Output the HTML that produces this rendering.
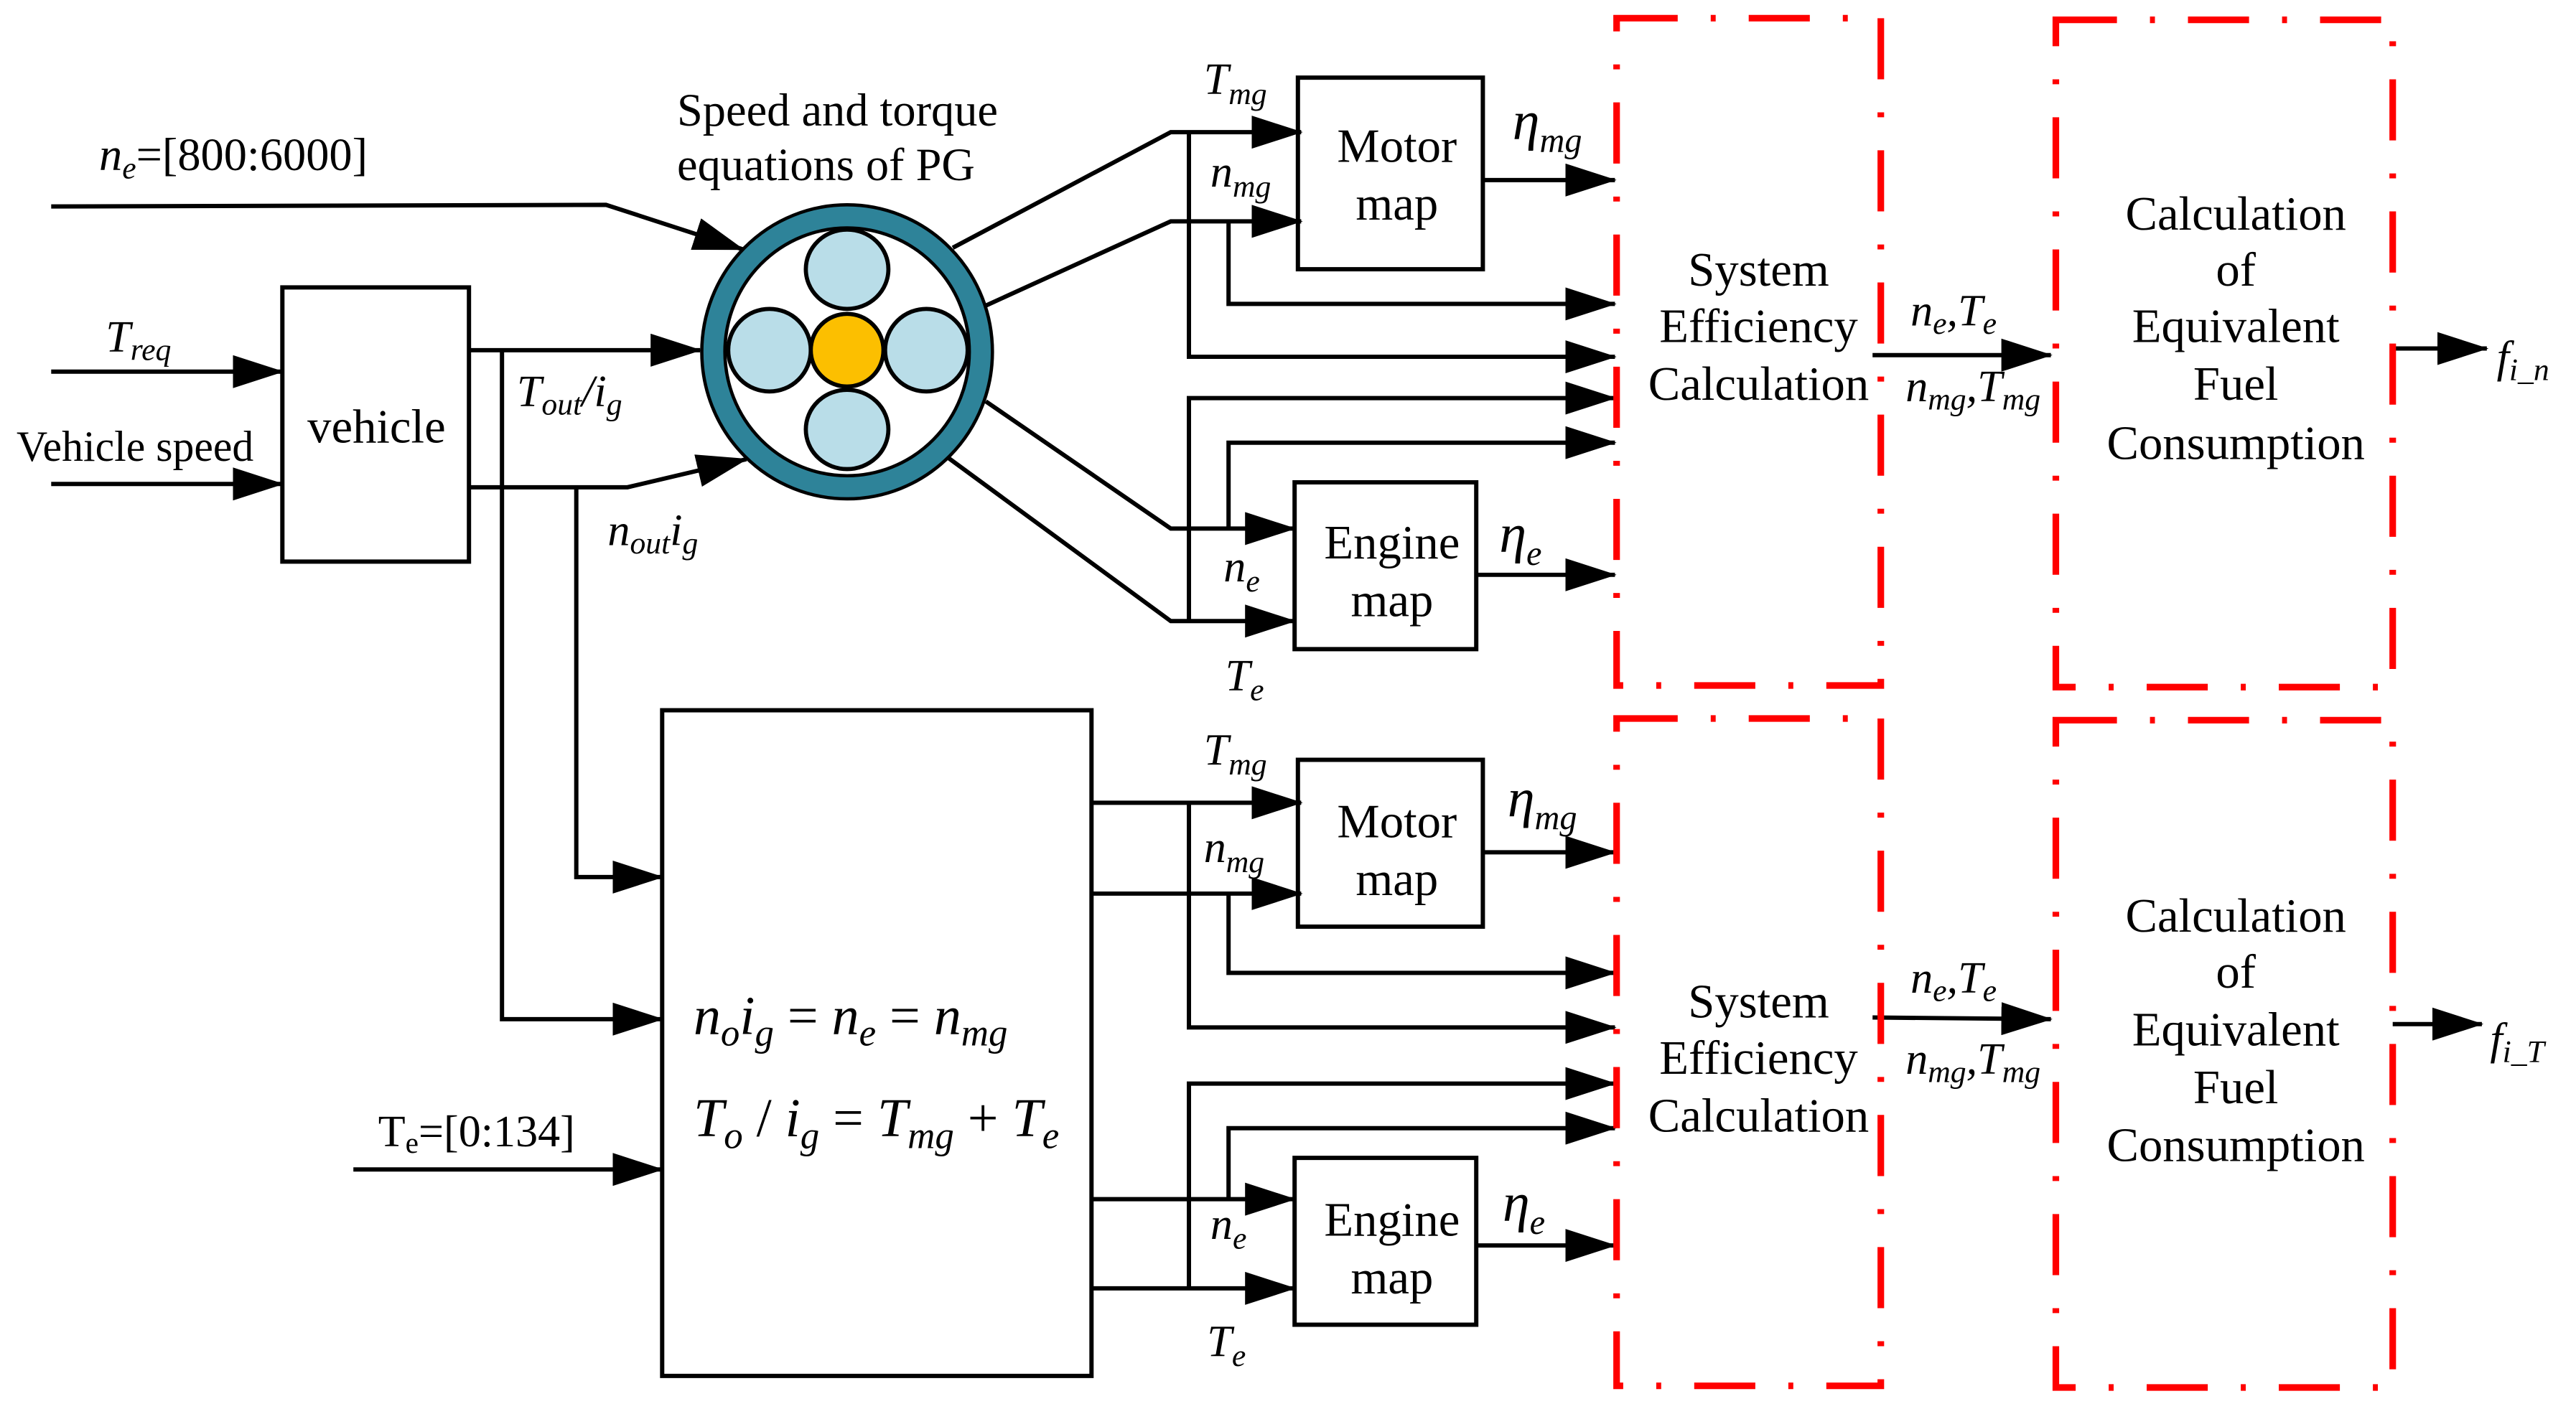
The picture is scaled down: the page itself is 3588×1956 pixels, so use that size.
<!DOCTYPE html>
<html><head><meta charset="utf-8"><style>
html,body{margin:0;padding:0;background:#fff}
svg{display:block}
text{font-family:"Liberation Serif",serif;fill:#000}
.b{font-size:29px}
.i{font-style:italic;font-size:27px}
.s{font-size:19px;font-style:italic}
</style></head><body>
<svg width="3588" height="1956" viewBox="0 0 1560 850" preserveAspectRatio="none" xmlns="http://www.w3.org/2000/svg">
<defs>
<marker id="a" markerUnits="userSpaceOnUse" markerWidth="31" markerHeight="20" refX="30" refY="10" orient="auto">
<path d="M0,0 L31,10 L0,20 z" fill="#000"/></marker>
</defs>
<g fill="none" stroke="#000" stroke-width="2.6">
<polyline points="31,125 367,124 450,151" marker-end="url(#a)"/>
<polyline points="31,225 171,225" marker-end="url(#a)"/>
<polyline points="31,293 171,293" marker-end="url(#a)"/>
<rect x="171" y="174" width="113" height="166"/>
<polyline points="284,212 424,212" marker-end="url(#a)"/>
<polyline points="284,295 380,295 452,278" marker-end="url(#a)"/>
<polyline points="304,212 304,617 401,617" marker-end="url(#a)"/>
<polyline points="349,295 349,531 401,531" marker-end="url(#a)"/>
<polyline points="577,150 709,80 788,80" marker-end="url(#a)"/>
<polyline points="597,185 709,134 788,134" marker-end="url(#a)"/>
<polyline points="720,80 720,216 978,216" marker-end="url(#a)"/>
<polyline points="744,134 744,184 978,184" marker-end="url(#a)"/>
<rect x="786" y="47" width="112" height="116"/>
<polyline points="898,109 978,109" marker-end="url(#a)"/>
<polyline points="597,243 709,320 784,320" marker-end="url(#a)"/>
<polyline points="574,277 709,376 784,376" marker-end="url(#a)"/>
<polyline points="720,376 720,241 978,241" marker-end="url(#a)"/>
<polyline points="744,320 744,268 978,268" marker-end="url(#a)"/>
<rect x="784" y="292" width="110" height="101"/>
<polyline points="894,348 978,348" marker-end="url(#a)"/>
<polyline points="1134,215 1242,215" marker-end="url(#a)"/>
<polyline points="1449,211 1506,211" marker-end="url(#a)"/>
<rect x="401" y="430" width="260" height="403"/>
<polyline points="214,708 401,708" marker-end="url(#a)"/>
<polyline points="661,486 788,486" marker-end="url(#a)"/>
<polyline points="661,541 788,541" marker-end="url(#a)"/>
<polyline points="720,486 720,622 978,622" marker-end="url(#a)"/>
<polyline points="744,541 744,589 978,589" marker-end="url(#a)"/>
<rect x="786" y="460" width="112" height="101"/>
<polyline points="898,516 978,516" marker-end="url(#a)"/>
<polyline points="661,726 784,726" marker-end="url(#a)"/>
<polyline points="661,780 784,780" marker-end="url(#a)"/>
<polyline points="720,780 720,656 978,656" marker-end="url(#a)"/>
<polyline points="744,726 744,683 978,683" marker-end="url(#a)"/>
<rect x="784" y="701" width="110" height="101"/>
<polyline points="894,754 978,754" marker-end="url(#a)"/>
<polyline points="1134,616 1242,617" marker-end="url(#a)"/>
<polyline points="1449,620 1503,620" marker-end="url(#a)"/>
</g>
<ellipse cx="513" cy="213" rx="81" ry="82" fill="#fff" stroke="#2e8399" stroke-width="13"/>
<ellipse cx="513" cy="213" rx="88" ry="89" fill="none" stroke="#000" stroke-width="2"/>
<ellipse cx="513" cy="213" rx="74" ry="75" fill="none" stroke="#000" stroke-width="2"/>
<g stroke="#000" stroke-width="2.5">
<ellipse cx="513" cy="163" rx="25" ry="24" fill="#b9dde8"/>
<ellipse cx="513" cy="260" rx="25" ry="24" fill="#b9dde8"/>
<ellipse cx="466" cy="212" rx="25" ry="25" fill="#b9dde8"/>
<ellipse cx="561" cy="212" rx="25" ry="25" fill="#b9dde8"/>
<ellipse cx="513" cy="212" rx="22" ry="22" fill="#fcbf00"/>
</g>
<g fill="none" stroke="#f00" stroke-width="4" stroke-dasharray="37 20 3 20">
<rect x="979" y="11" width="160" height="404"/>
<rect x="1245" y="12" width="204" height="404"/>
<rect x="979" y="435" width="160" height="404"/>
<rect x="1245" y="436" width="204" height="404"/>
</g>
<text class="b" x="60" y="103" style="font-size:28px"><tspan font-style="italic">n</tspan><tspan class="s" dy="5">e</tspan><tspan dy="-5">=[800:6000]</tspan></text>
<text class="i" x="64" y="213">T<tspan class="s" dy="5">req</tspan></text>
<text class="b" x="10" y="279" style="font-size:26px">Vehicle speed</text>
<text class="b" x="228" y="268" text-anchor="middle">vehicle</text>
<text class="i" x="313" y="246">T<tspan class="s" dy="5">out</tspan><tspan dy="-5">/i</tspan><tspan class="s" dy="5">g</tspan></text>
<text class="i" x="368" y="330">n<tspan class="s" dy="5">out</tspan><tspan dy="-5">i</tspan><tspan class="s" dy="5">g</tspan></text>
<text class="b" x="410" y="76" style="font-size:28px">Speed and torque</text>
<text class="b" x="410" y="109" style="font-size:28px">equations of PG</text>
<text class="i" x="729" y="57">T<tspan class="s" dy="6">mg</tspan></text>
<text class="i" x="733" y="113">n<tspan class="s" dy="6">mg</tspan></text>
<text class="i" x="741" y="352">n<tspan class="s" dy="6">e</tspan></text>
<text class="i" x="742" y="418">T<tspan class="s" dy="6">e</tspan></text>
<text class="b" x="846" y="98" text-anchor="middle">Motor</text>
<text class="b" x="846" y="133" text-anchor="middle">map</text>
<text class="b" x="843" y="338" text-anchor="middle">Engine</text>
<text class="b" x="843" y="373" text-anchor="middle">map</text>
<text class="i" x="916" y="84" style="font-size:33px">η<tspan class="s" dy="8" style="font-size:21px">mg</tspan></text>
<text class="i" x="908" y="334" style="font-size:33px">η<tspan class="s" dy="8" style="font-size:21px">e</tspan></text>
<g class="b" text-anchor="middle">
<text x="1065" y="173">System</text>
<text x="1065" y="207">Efficiency</text>
<text x="1065" y="242">Calculation</text>
<text x="1354" y="139">Calculation</text>
<text x="1354" y="173">of</text>
<text x="1354" y="207">Equivalent</text>
<text x="1354" y="242">Fuel</text>
<text x="1354" y="278">Consumption</text>
<text x="1065" y="616">System</text>
<text x="1065" y="650">Efficiency</text>
<text x="1065" y="685">Calculation</text>
<text x="1354" y="564">Calculation</text>
<text x="1354" y="598">of</text>
<text x="1354" y="633">Equivalent</text>
<text x="1354" y="668">Fuel</text>
<text x="1354" y="703">Consumption</text>
</g>
<text class="i" x="1157" y="197">n<tspan class="s" dy="5">e</tspan><tspan dy="-5">,T</tspan><tspan class="s" dy="5">e</tspan></text>
<text class="i" x="1154" y="243">n<tspan class="s" dy="5">mg</tspan><tspan dy="-5">,T</tspan><tspan class="s" dy="5">mg</tspan></text>
<text class="i" x="1512" y="225">f<tspan class="s" dy="5">i_n</tspan></text>
<text class="b" x="229" y="694" style="font-size:27px">T<tspan style="font-size:18px" dy="4">e</tspan><tspan dy="-4">=[0:134]</tspan></text>
<text class="i" x="420" y="626" style="font-size:33px">n<tspan class="s" dy="7" style="font-size:23px">o</tspan><tspan dy="-7">i</tspan><tspan class="s" dy="7" style="font-size:23px">g</tspan><tspan dy="-7" font-style="normal"> = </tspan><tspan>n</tspan><tspan class="s" dy="7" style="font-size:23px">e</tspan><tspan dy="-7" font-style="normal"> = </tspan><tspan>n</tspan><tspan class="s" dy="7" style="font-size:23px">mg</tspan></text>
<text class="i" x="420" y="688" style="font-size:33px">T<tspan class="s" dy="7" style="font-size:23px">o</tspan><tspan dy="-7" font-style="normal"> / </tspan><tspan>i</tspan><tspan class="s" dy="7" style="font-size:23px">g</tspan><tspan dy="-7" font-style="normal"> = </tspan><tspan>T</tspan><tspan class="s" dy="7" style="font-size:23px">mg</tspan><tspan dy="-7" font-style="normal"> + </tspan><tspan>T</tspan><tspan class="s" dy="7" style="font-size:23px">e</tspan></text>
<text class="i" x="729" y="463">T<tspan class="s" dy="6">mg</tspan></text>
<text class="i" x="729" y="522">n<tspan class="s" dy="6">mg</tspan></text>
<text class="i" x="733" y="750">n<tspan class="s" dy="6">e</tspan></text>
<text class="i" x="731" y="821">T<tspan class="s" dy="6">e</tspan></text>
<text class="b" x="846" y="507" text-anchor="middle">Motor</text>
<text class="b" x="846" y="542" text-anchor="middle">map</text>
<text class="b" x="843" y="748" text-anchor="middle">Engine</text>
<text class="b" x="843" y="783" text-anchor="middle">map</text>
<text class="i" x="913" y="494" style="font-size:33px">η<tspan class="s" dy="8" style="font-size:21px">mg</tspan></text>
<text class="i" x="910" y="739" style="font-size:33px">η<tspan class="s" dy="8" style="font-size:21px">e</tspan></text>
<text class="i" x="1157" y="601">n<tspan class="s" dy="5">e</tspan><tspan dy="-5">,T</tspan><tspan class="s" dy="5">e</tspan></text>
<text class="i" x="1154" y="650">n<tspan class="s" dy="5">mg</tspan><tspan dy="-5">,T</tspan><tspan class="s" dy="5">mg</tspan></text>
<text class="i" x="1508" y="638">f<tspan class="s" dy="5">i_T</tspan></text>
</svg>
</body></html>
